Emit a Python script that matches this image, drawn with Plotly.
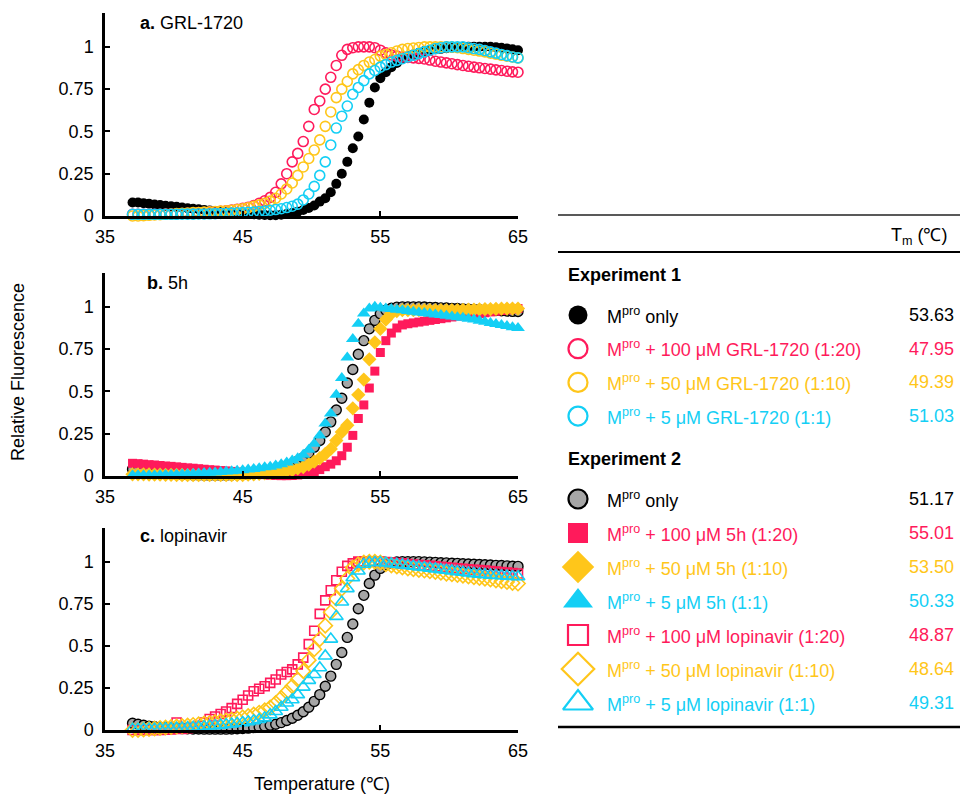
import plotly.graph_objects as go

# ---------------- data ----------------
temps = [37.0, 37.4, 37.8, 38.2, 38.6, 39.0, 39.4, 39.8, 40.2, 40.6,
         41.0, 41.4, 41.8, 42.2, 42.6, 43.0, 43.4, 43.8, 44.2, 44.6,
         45.0, 45.4, 45.8, 46.2, 46.6, 47.0, 47.4, 47.8, 48.2, 48.6,
         49.0, 49.4, 49.8, 50.2, 50.6, 51.0, 51.4, 51.8, 52.2, 52.6,
         53.0, 53.4, 53.8, 54.2, 54.6, 55.0, 55.4, 55.8, 56.2, 56.6,
         57.0, 57.4, 57.8, 58.2, 58.6, 59.0, 59.4, 59.8, 60.2, 60.6,
         61.0, 61.4, 61.8, 62.2, 62.6, 63.0, 63.4, 63.8, 64.2, 64.6,
         65.0]

# Experiment 1 (panel a)
exp1_only = [0.080, 0.080, 0.076, 0.072, 0.068, 0.065, 0.061, 0.057, 0.054, 0.050,
             0.046, 0.043, 0.040, 0.036, 0.032, 0.030, 0.027, 0.024, 0.020, 0.018,
             0.015, 0.012, 0.010, 0.008, 0.006, 0.005, 0.005, 0.008, 0.012, 0.018,
             0.025, 0.035, 0.048, 0.062, 0.085, 0.105, 0.140, 0.190, 0.250, 0.320,
             0.400, 0.470, 0.570, 0.670, 0.760, 0.815, 0.850, 0.880, 0.905, 0.930,
             0.945, 0.955, 0.965, 0.975, 0.980, 0.985, 0.988, 0.992, 0.995, 0.998,
             1.000, 1.000, 1.000, 1.000, 1.000, 1.000, 0.998, 0.995, 0.990, 0.985,
             0.980]
exp1_grl100 = [0.010, 0.010, 0.010, 0.010, 0.010, 0.010, 0.011, 0.012, 0.013, 0.015,
               0.016, 0.018, 0.020, 0.021, 0.023, 0.025, 0.028, 0.031, 0.035, 0.040,
               0.045, 0.052, 0.062, 0.075, 0.090, 0.110, 0.140, 0.190, 0.250, 0.320,
               0.370, 0.440, 0.530, 0.630, 0.680, 0.750, 0.820, 0.890, 0.950, 0.985,
               0.995, 1.000, 1.000, 1.000, 0.995, 0.980, 0.965, 0.952, 0.945, 0.940,
               0.937, 0.935, 0.932, 0.928, 0.922, 0.915, 0.910, 0.905, 0.900, 0.895,
               0.890, 0.885, 0.880, 0.876, 0.872, 0.868, 0.864, 0.860, 0.856, 0.852,
               0.850]
exp1_grl50 = [0.000, 0.000, 0.002, 0.004, 0.006, 0.008, 0.010, 0.012, 0.014, 0.016,
              0.018, 0.020, 0.021, 0.023, 0.025, 0.027, 0.029, 0.031, 0.034, 0.038,
              0.043, 0.049, 0.057, 0.066, 0.075, 0.088, 0.105, 0.130, 0.160, 0.195,
              0.240, 0.290, 0.340, 0.390, 0.450, 0.530, 0.615, 0.700, 0.750, 0.795,
              0.840, 0.865, 0.890, 0.910, 0.925, 0.945, 0.955, 0.965, 0.975, 0.985,
              0.990, 0.993, 0.996, 1.000, 1.000, 1.000, 1.000, 1.000, 0.998, 0.995,
              0.990, 0.985, 0.980, 0.975, 0.970, 0.963, 0.957, 0.950, 0.945, 0.940,
              0.935]
exp1_grl5 = [0.010, 0.010, 0.010, 0.010, 0.010, 0.010, 0.010, 0.010, 0.010, 0.011,
             0.011, 0.011, 0.012, 0.012, 0.013, 0.014, 0.015, 0.016, 0.017, 0.019,
             0.020, 0.022, 0.024, 0.027, 0.030, 0.034, 0.038, 0.043, 0.050, 0.058,
             0.070, 0.095, 0.130, 0.175, 0.240, 0.320, 0.420, 0.520, 0.590, 0.650,
             0.720, 0.760, 0.800, 0.840, 0.860, 0.880, 0.895, 0.910, 0.920, 0.930,
             0.940, 0.950, 0.960, 0.970, 0.980, 0.990, 0.995, 1.000, 1.000, 1.000,
             1.000, 0.995, 0.990, 0.985, 0.978, 0.970, 0.963, 0.955, 0.948, 0.940,
             0.935]

# Experiment 2 (panels b and c)
exp2_only = [0.040, 0.034, 0.028, 0.023, 0.019, 0.016, 0.014, 0.012, 0.010, 0.008,
             0.007, 0.006, 0.006, 0.005, 0.005, 0.005, 0.005, 0.005, 0.006, 0.007,
             0.009, 0.011, 0.014, 0.018, 0.022, 0.028, 0.034, 0.044, 0.056, 0.070,
             0.088, 0.108, 0.135, 0.170, 0.210, 0.260, 0.320, 0.390, 0.460, 0.550,
             0.630, 0.720, 0.800, 0.870, 0.920, 0.960, 0.980, 0.992, 0.998, 1.000,
             1.000, 1.000, 1.000, 0.999, 0.997, 0.996, 0.994, 0.993, 0.991, 0.990,
             0.988, 0.986, 0.985, 0.983, 0.982, 0.980, 0.978, 0.977, 0.975, 0.973,
             0.972]
exp2_5h100 = [0.075, 0.073, 0.070, 0.067, 0.065, 0.062, 0.059, 0.057, 0.054, 0.051,
              0.048, 0.046, 0.043, 0.040, 0.037, 0.035, 0.032, 0.030, 0.027, 0.024,
              0.020, 0.017, 0.014, 0.011, 0.008, 0.005, 0.003, 0.002, 0.002, 0.003,
              0.006, 0.010, 0.016, 0.026, 0.038, 0.055, 0.070, 0.090, 0.120, 0.170,
              0.240, 0.340, 0.420, 0.520, 0.620, 0.730, 0.800, 0.845, 0.875, 0.893,
              0.900, 0.905, 0.910, 0.915, 0.920, 0.925, 0.930, 0.935, 0.940, 0.945,
              0.950, 0.953, 0.957, 0.960, 0.965, 0.970, 0.974, 0.978, 0.982, 0.986,
              0.990]
exp2_5h50 = [0.010, 0.010, 0.010, 0.009, 0.008, 0.008, 0.007, 0.007, 0.006, 0.006,
             0.005, 0.005, 0.005, 0.005, 0.005, 0.005, 0.005, 0.005, 0.005, 0.005,
             0.006, 0.008, 0.010, 0.012, 0.015, 0.017, 0.021, 0.025, 0.030, 0.035,
             0.045, 0.053, 0.068, 0.085, 0.105, 0.130, 0.160, 0.210, 0.260, 0.300,
             0.400, 0.480, 0.570, 0.690, 0.790, 0.870, 0.925, 0.960, 0.975, 0.980,
             0.980, 0.980, 0.980, 0.980, 0.980, 0.980, 0.980, 0.980, 0.980, 0.980,
             0.982, 0.983, 0.984, 0.985, 0.986, 0.987, 0.988, 0.989, 0.990, 0.990,
             0.990]
exp2_5h5 = [0.005, 0.005, 0.005, 0.005, 0.005, 0.006, 0.007, 0.008, 0.009, 0.010,
            0.012, 0.013, 0.015, 0.017, 0.019, 0.021, 0.023, 0.026, 0.028, 0.031,
            0.034, 0.038, 0.042, 0.046, 0.051, 0.055, 0.062, 0.070, 0.080, 0.092,
            0.105, 0.125, 0.155, 0.190, 0.240, 0.310, 0.370, 0.480, 0.580, 0.700,
            0.810, 0.900, 0.960, 0.990, 1.000, 0.995, 0.990, 0.987, 0.983, 0.980,
            0.975, 0.971, 0.967, 0.963, 0.959, 0.955, 0.951, 0.947, 0.943, 0.939,
            0.935, 0.930, 0.925, 0.918, 0.912, 0.905, 0.898, 0.892, 0.886, 0.880,
            0.875]
exp2_lop100 = [0.000, 0.000, 0.000, 0.000, 0.000, 0.000, 0.002, 0.004, 0.045, 0.006,
               0.010, 0.015, 0.025, 0.045, 0.065, 0.080, 0.095, 0.110, 0.130, 0.155,
               0.180, 0.205, 0.230, 0.245, 0.260, 0.280, 0.300, 0.330, 0.345, 0.360,
               0.390, 0.430, 0.510, 0.590, 0.690, 0.770, 0.830, 0.890, 0.940, 0.975,
               0.990, 1.000, 1.000, 1.000, 1.000, 1.000, 0.998, 0.995, 0.992, 0.990,
               0.986, 0.983, 0.980, 0.978, 0.975, 0.972, 0.970, 0.967, 0.964, 0.961,
               0.958, 0.955, 0.952, 0.950, 0.947, 0.944, 0.941, 0.938, 0.935, 0.932,
               0.930]
exp2_lop50 = [0.000, 0.000, 0.003, 0.006, 0.009, 0.012, 0.015, 0.018, 0.021, 0.024,
              0.027, 0.030, 0.034, 0.038, 0.042, 0.047, 0.052, 0.057, 0.062, 0.068,
              0.075, 0.083, 0.092, 0.103, 0.117, 0.133, 0.160, 0.190, 0.225, 0.260,
              0.300, 0.350, 0.415, 0.480, 0.540, 0.620, 0.700, 0.780, 0.840, 0.900,
              0.965, 0.985, 0.995, 1.000, 1.000, 0.995, 0.985, 0.978, 0.972, 0.966,
              0.960, 0.955, 0.951, 0.947, 0.943, 0.939, 0.934, 0.929, 0.925, 0.921,
              0.917, 0.912, 0.908, 0.903, 0.899, 0.894, 0.889, 0.884, 0.879, 0.874,
              0.870]
exp2_lop5 = [0.005, 0.005, 0.005, 0.006, 0.006, 0.007, 0.008, 0.009, 0.011, 0.012,
             0.014, 0.016, 0.018, 0.021, 0.024, 0.026, 0.029, 0.033, 0.036, 0.040,
             0.044, 0.049, 0.055, 0.062, 0.072, 0.090, 0.110, 0.135, 0.160, 0.180,
             0.210, 0.255, 0.295, 0.330, 0.370, 0.440, 0.540, 0.675, 0.760, 0.840,
             0.905, 0.945, 0.985, 0.995, 0.995, 0.995, 0.992, 0.988, 0.985, 0.981,
             0.977, 0.973, 0.969, 0.965, 0.961, 0.957, 0.953, 0.949, 0.945, 0.941,
             0.937, 0.933, 0.929, 0.926, 0.923, 0.920, 0.918, 0.916, 0.914, 0.912,
             0.910]

x_ticks = [35, 45, 55, 65]
y_ticks = [0, 0.25, 0.5, 0.75, 1]
y_ticktext = ["0", "0.25", "0.5", "0.75", "1"]

panel_titles = ["<b>a.</b> GRL-1720", "<b>b.</b> 5h", "<b>c.</b> lopinavir"]

exp1_labels = ["M<sup>pro</sup> only",
               "M<sup>pro</sup> + 100 μM GRL-1720 (1:20)",
               "M<sup>pro</sup> + 50 μM GRL-1720 (1:10)",
               "M<sup>pro</sup> + 5 μM GRL-1720 (1:1)"]
exp1_tm = [53.63, 47.95, 49.39, 51.03]
exp2_labels = ["M<sup>pro</sup> only",
               "M<sup>pro</sup> + 100 μM 5h (1:20)",
               "M<sup>pro</sup> + 50 μM 5h (1:10)",
               "M<sup>pro</sup> + 5 μM 5h (1:1)",
               "M<sup>pro</sup> + 100 μM lopinavir (1:20)",
               "M<sup>pro</sup> + 50 μM lopinavir (1:10)",
               "M<sup>pro</sup> + 5 μM lopinavir (1:1)"]
exp2_tm = [51.17, 55.01, 53.50, 50.33, 48.87, 48.64, 49.31]

# ---------------- styles ----------------
FONT = "Liberation Sans, Arial, sans-serif"
RED = "#FF1A5B"
YEL = "#FFC61A"
CYA = "#14CFF5"
GRY = "#A6A6A6"


def mstyle(symbol, color, size, line_color=None, lw=0):
    d = dict(symbol=symbol, color=color, size=size)
    d["line"] = dict(color=line_color if line_color else color, width=lw)
    return d


# symbol, colour, chart size, outline colour, chart line width, table size, table line width
styles = {
    "e1_only": ("circle", "black", 10, None, 0, 19, 0),
    "e1_100": ("circle-open", RED, 10, None, 1.6, 19, 2.2),
    "e1_50": ("circle-open", YEL, 10, None, 1.6, 19, 2.2),
    "e1_5": ("circle-open", CYA, 10, None, 1.6, 19, 2.2),
    "e2_only": ("circle", GRY, 10, "black", 1.4, 19, 2.2),
    "e2_5h100": ("square", RED, 9, None, 0, 20, 0),
    "e2_5h50": ("diamond", YEL, 11, None, 0, 25, 0),
    "e2_5h5": ("triangle-up", CYA, 12, None, 0, 26, 0),
    "e2_l100": ("square-open", RED, 9, None, 1.6, 20, 2.2),
    "e2_l50": ("diamond-open", YEL, 11, None, 1.6, 25, 2.2),
    "e2_l5": ("triangle-up-open", CYA, 12, None, 1.6, 26, 2.2),
}


def chart_marker(key):
    s, c, sz, lc, lw, _, _ = styles[key]
    return mstyle(s, c, sz, lc, lw)


def table_marker(key):
    s, c, _, lc, _, sz, lw = styles[key]
    return mstyle(s, c, sz, lc, lw)


fig = go.Figure()

panels = [
    ("x", "y", [("e1_only", exp1_only), ("e1_100", exp1_grl100),
                ("e1_50", exp1_grl50), ("e1_5", exp1_grl5)]),
    ("x2", "y2", [("e2_only", exp2_only), ("e2_5h100", exp2_5h100),
                  ("e2_5h50", exp2_5h50), ("e2_5h5", exp2_5h5)]),
    ("x3", "y3", [("e2_only", exp2_only), ("e2_l100", exp2_lop100),
                  ("e2_l50", exp2_lop50), ("e2_l5", exp2_lop5)]),
]

for xa, ya, series in panels:
    for key, vals in series:
        fig.add_trace(go.Scatter(x=temps, y=vals, mode="markers", xaxis=xa, yaxis=ya,
                                 marker=chart_marker(key), cliponaxis=False,
                                 showlegend=False, hoverinfo="skip"))

# ---------------- layout geometry (pixels) ----------------
W, H = 961, 794
X0, X1 = 105, 518
panel_px = [(13, 216), (273, 476), (528, 730)]


def ydom(top, bot):
    return [1 - bot / H, 1 - top / H]


xcommon = dict(range=[35, 65], tickvals=x_ticks, ticks="inside", ticklen=5, tickwidth=2,
               tickcolor="black", showline=True, linecolor="black", linewidth=2.5,
               showgrid=False, zeroline=False, domain=[X0 / W, X1 / W], automargin=False,
               ticklabelstandoff=3,
               tickfont=dict(size=18, color="black", family=FONT))
ycommon = dict(range=[0, 1.2], tickvals=y_ticks, ticktext=y_ticktext, ticks="inside",
               ticklen=5, tickwidth=2, tickcolor="black", showline=True, linecolor="black",
               linewidth=2.5, showgrid=False, zeroline=False, ticklabelstandoff=5,
               automargin=False, tickfont=dict(size=18, color="black", family=FONT))

fig.update_layout(
    xaxis=dict(xcommon, anchor="y"),
    yaxis=dict(ycommon, anchor="x", domain=ydom(*panel_px[0])),
    xaxis2=dict(xcommon, anchor="y2"),
    yaxis2=dict(ycommon, anchor="x2", domain=ydom(*panel_px[1])),
    xaxis3=dict(xcommon, anchor="y3"),
    yaxis3=dict(ycommon, anchor="x3", domain=ydom(*panel_px[2])),
    xaxis4=dict(range=[0, W], domain=[0, 1], visible=False, anchor="y4",
                fixedrange=True, automargin=False),
    yaxis4=dict(range=[H, 0], domain=[0, 1], visible=False, anchor="x4",
                fixedrange=True, automargin=False),
)

annotations = []


def txt(x, y, text, size=18, color="black", xanchor="left", angle=0):
    annotations.append(dict(x=x, y=y, xref="x4", yref="y4", text=text, showarrow=False,
                            xanchor=xanchor, yanchor="middle", textangle=angle,
                            font=dict(size=size, color=color, family=FONT)))


# panel titles
title_pos = [(138, 23), (145, 283), (138, 536)]
for (tx, ty), t in zip(title_pos, panel_titles):
    txt(tx, ty, t)

# axis titles
txt(18, 372, "Relative Fluorescence", angle=-90, xanchor="center")
txt(322, 784, "Temperature (℃)", xanchor="center")

# ---------------- table ----------------
MX, LX, VX = 578, 605, 956
shapes = [
    dict(type="line", xref="x4", yref="y4", x0=558, x1=960, y0=215, y1=215,
         line=dict(color="#222", width=1.5)),
    dict(type="line", xref="x4", yref="y4", x0=558, x1=960, y0=252, y1=252,
         line=dict(color="black", width=2)),
    dict(type="line", xref="x4", yref="y4", x0=558, x1=960, y0=727, y1=727,
         line=dict(color="black", width=2.5)),
]
txt(950, 236, "T<sub>m</sub> (℃)", xanchor="right")
txt(566, 275, "<b>Experiment 1</b>")
txt(566, 459, "<b>Experiment 2</b>")

exp1_keys = ["e1_only", "e1_100", "e1_50", "e1_5"]
exp1_cols = ["black", RED, YEL, CYA]
exp2_keys = ["e2_only", "e2_5h100", "e2_5h50", "e2_5h5", "e2_l100", "e2_l50", "e2_l5"]
exp2_cols = ["black", RED, YEL, CYA, RED, YEL, CYA]

groups = [(315, 33.7, exp1_keys, exp1_labels, exp1_tm, exp1_cols),
          (499, 34.0, exp2_keys, exp2_labels, exp2_tm, exp2_cols)]
for y0, pitch, keys, labels, tms, cols in groups:
    for i, (k, lab, tm, col) in enumerate(zip(keys, labels, tms, cols)):
        yy = y0 + i * pitch
        fig.add_trace(go.Scatter(x=[MX], y=[yy], mode="markers", xaxis="x4", yaxis="y4",
                                 marker=table_marker(k), cliponaxis=False,
                                 showlegend=False, hoverinfo="skip"))
        txt(LX, yy, lab, color=col)
        txt(VX, yy, f"{tm:.2f}", color=col, xanchor="right")

fig.update_layout(
    width=W, height=H, autosize=False,
    margin=dict(l=0, r=0, t=0, b=0, pad=0, autoexpand=False),
    paper_bgcolor="white",
    plot_bgcolor="rgba(0,0,0,0)",
    showlegend=False,
    annotations=annotations,
    shapes=shapes,
    font=dict(family=FONT, size=18, color="black"),
)

fig.write_html("out.html",
               config={"displayModeBar": False, "responsive": False},
               post_script="document.body.style.margin='0px';"
                           "document.body.style.overflow='hidden';")
